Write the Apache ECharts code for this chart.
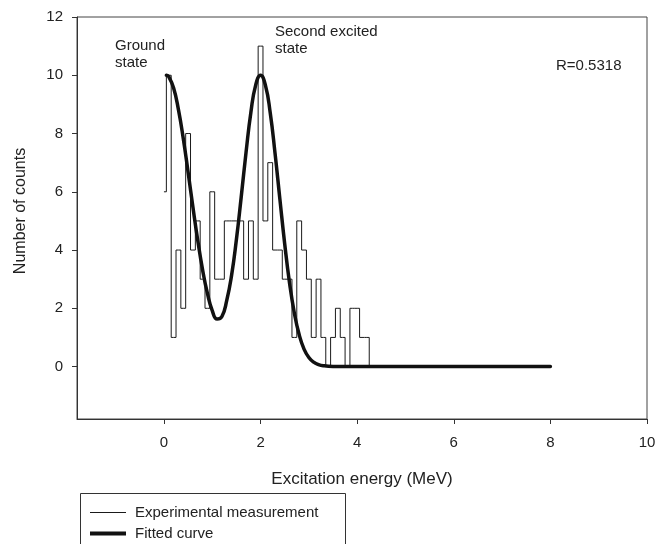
<!DOCTYPE html>
<html>
<head>
<meta charset="utf-8">
<script src="https://cdn.jsdelivr.net/npm/echarts@6/dist/echarts.min.js"></script>
<style>
html,body{margin:0;padding:0;background:#fff;}
#chart{width:665px;height:544px;}
</style>
</head>
<body>
<div id="chart"></div>
<script>
// ---- data ----
const histEnergy = [0.0,0.1,0.2,0.3,0.4,0.5,0.6,0.7,0.8,0.9,1.0,1.1,1.2,1.3,1.4,1.5,1.6,1.7,1.8,1.9,2.0,2.1,2.2,2.3,2.4,2.5,2.6,2.7,2.8,2.9,3.0,3.1,3.2,3.3,3.4,3.5,3.6,3.7,3.8,3.9,4.0,4.1,4.2,4.3];
const histCounts = [6,10,1,4,2,8,4,5,3,2,6,3,3,5,5,5,5,3,5,3,11,5,7,4,4,3,3,1,5,4,3,1,3,1,0,1,2,1,0,2,2,1,1,0];
const fitEnergy = [0.05,0.1,0.2,0.3,0.4,0.5,0.6,0.7,0.8,0.9,1.0,1.1,1.2,1.3,1.4,1.5,1.6,1.7,1.8,1.9,2.0,2.1,2.2,2.3,2.4,2.5,2.6,2.7,2.8,2.9,3.0,3.1,3.2,3.3,3.5,3.8,4.5,6,8];
const fitCounts = [10,9.95,9.56,8.82,7.83,6.67,5.47,4.33,3.32,2.51,1.92,1.63,1.72,2.27,3.13,4.36,5.83,7.36,8.73,9.67,10,9.66,8.71,7.32,5.75,4.21,2.87,1.83,1.09,0.6,0.31,0.15,0.07,0.03,0.004,0,0,0,0];
const xTicks = [0,2,4,6,8,10];
const yTicks = [0,2,4,6,8,10,12];
const seriesNames = ['Experimental measurement','Fitted curve'];
const annotations = ['Ground\nstate','Second excited\nstate','R=0.5318'];
const xTitle = 'Excitation energy (MeV)';
const yTitle = 'Number of counts';

const FONT = '"Liberation Sans", Arial, sans-serif';
const chart = echarts.init(document.getElementById('chart'), null, {renderer:'canvas'});
chart.setOption({
  animation:false,
  backgroundColor:'#fff',
  grid:{left:77,right:18,top:17,bottom:125,show:true,borderColor:'#444',borderWidth:1,backgroundColor:'transparent'},
  xAxis:{
    type:'value',min:-1.8,max:10,
    name:xTitle,nameLocation:'middle',nameGap:52,
    nameTextStyle:{fontFamily:FONT,fontSize:17,color:'#222'},
    axisLine:{show:true,onZero:false,lineStyle:{color:'#333',width:1}},
    axisTick:{show:true,length:5,customValues:xTicks,lineStyle:{color:'#333'}},
    axisLabel:{customValues:xTicks,fontFamily:FONT,fontSize:15,color:'#222',margin:16},
    splitLine:{show:false}
  },
  yAxis:{
    type:'value',min:-1.8,max:12,
    name:yTitle,nameLocation:'middle',nameGap:48,
    nameTextStyle:{fontFamily:FONT,fontSize:16,color:'#222',padding:[0,0,0,14]},
    axisLine:{show:true,onZero:false,lineStyle:{color:'#333',width:1}},
    axisTick:{show:true,length:5,customValues:yTicks,lineStyle:{color:'#333'}},
    axisLabel:{customValues:yTicks,fontFamily:FONT,fontSize:15,color:'#222',margin:14},
    splitLine:{show:false}
  },
  legend:{
    orient:'vertical',left:90,top:505,padding:0,itemWidth:36,itemHeight:14,itemGap:6,
    data:[
      {name:seriesNames[0],icon:'path://M0,0h36v1h-36z'},
      {name:seriesNames[1],icon:'path://M0,0h36v4h-36z'}
    ],
    itemStyle:{borderWidth:0},
    textStyle:{fontFamily:FONT,fontSize:15,color:'#222',padding:[0,0,0,4]}
  },
  graphic:[
    {type:'rect',left:78,top:491,shape:{width:265,height:70},style:{fill:'none',stroke:'#333',lineWidth:1},silent:true},
    {type:'text',left:115,top:37,style:{text:annotations[0],font:'15px '+FONT,fill:'#222',lineHeight:17}},
    {type:'text',left:275,top:23,style:{text:annotations[1],font:'15px '+FONT,fill:'#222',lineHeight:17}},
    {type:'text',left:556,top:58,style:{text:annotations[2],font:'15px '+FONT,fill:'#222'}}
  ],
  series:[
    {
      name:seriesNames[0],type:'line',step:'middle',symbol:'none',
      data:histEnergy.map((x,i)=>[x,histCounts[i]]),
      lineStyle:{color:'#1a1a1a',width:1},itemStyle:{color:'#1a1a1a'},z:2
    },
    {
      name:seriesNames[1],type:'line',smooth:0.5,symbol:'none',
      data:fitEnergy.map((x,i)=>[x,fitCounts[i]]),
      lineStyle:{color:'#111',width:3.5,cap:'round',join:'round'},itemStyle:{color:'#111'},z:3
    }
  ]
});
</script>
</body>
</html>
